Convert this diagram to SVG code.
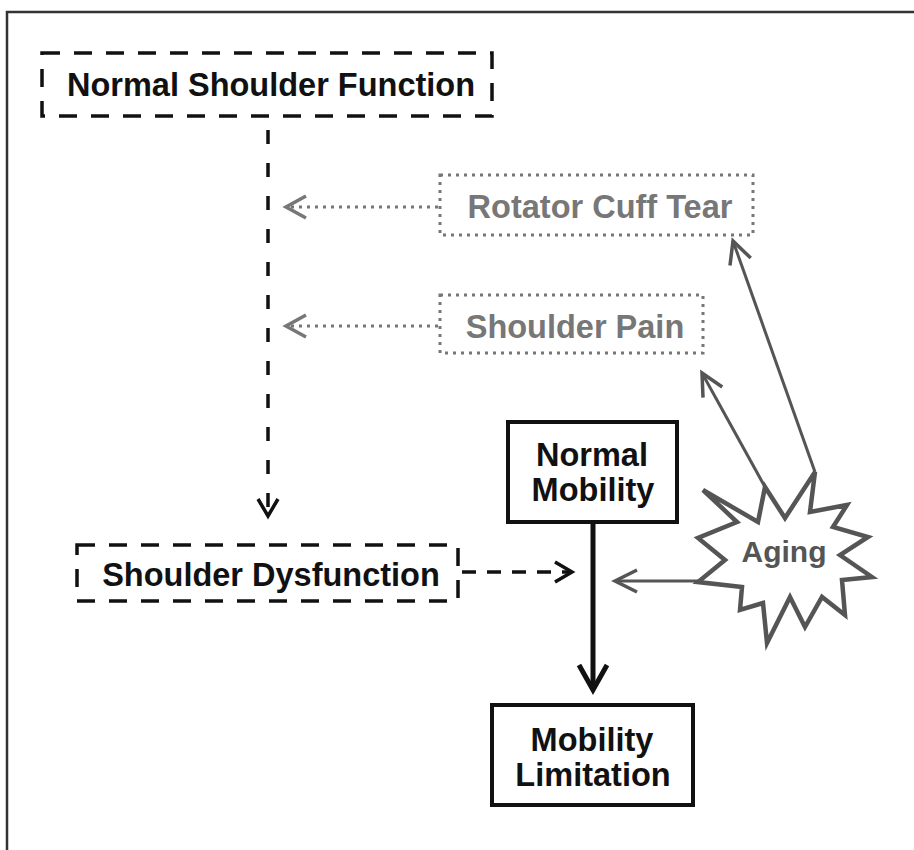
<svg xmlns="http://www.w3.org/2000/svg" width="914" height="850" viewBox="0 0 914 850">
<defs>
<style>
.t{font-family:"Liberation Sans",Arial,sans-serif;font-weight:bold;font-size:32.5px;text-anchor:middle}
.blk{fill:#111}
.gry{fill:#777}
.dash{fill:none;stroke:#111;stroke-width:3.5;stroke-dasharray:18 14}
.dot{fill:none;stroke:#777;stroke-width:3;stroke-dasharray:3 5}
.solid{fill:#fff;stroke:#111;stroke-width:4}
</style>
<marker id="aBlk" markerUnits="userSpaceOnUse" markerWidth="40" markerHeight="40" viewBox="-30 -20 40 40" refX="0" refY="0" orient="auto" overflow="visible"><path d="M-17,-10 L0,0 L-17,10" fill="none" stroke="#111" stroke-width="3.5"/></marker>
<marker id="aThick" markerUnits="userSpaceOnUse" markerWidth="40" markerHeight="40" viewBox="-30 -20 40 40" refX="0" refY="0" orient="auto" overflow="visible"><path d="M-25,-14 L0,0 L-25,14" fill="none" stroke="#111" stroke-width="5"/></marker>
<marker id="aDot" markerUnits="userSpaceOnUse" markerWidth="40" markerHeight="40" viewBox="-30 -20 40 40" refX="0" refY="0" orient="auto" overflow="visible"><path d="M-20,-11 L0,0 L-20,11" fill="none" stroke="#777" stroke-width="3.5"/></marker>
<marker id="aGry" markerUnits="userSpaceOnUse" markerWidth="40" markerHeight="40" viewBox="-30 -20 40 40" refX="0" refY="0" orient="auto" overflow="visible"><path d="M-22,-11 L0,0 L-22,11" fill="none" stroke="#555" stroke-width="3.5"/></marker>
</defs>
<rect width="914" height="850" fill="#fff"/>
<path d="M7,850 L7,12 L914,12" fill="none" stroke="#333" stroke-width="2.5"/>

<g id="connectors">
<line x1="268" y1="130" x2="268" y2="516" stroke="#111" stroke-width="3.5" stroke-dasharray="14 19" marker-end="url(#aBlk)"/>
<line x1="438" y1="207" x2="286" y2="207" stroke="#777" stroke-width="3" stroke-dasharray="3 5" marker-end="url(#aDot)"/>
<line x1="438" y1="326" x2="286" y2="326" stroke="#777" stroke-width="3" stroke-dasharray="3 5" marker-end="url(#aDot)"/>
<line x1="462" y1="572" x2="572" y2="572" stroke="#111" stroke-width="3.5" stroke-dasharray="14 11" marker-end="url(#aBlk)"/>
<line x1="593" y1="522" x2="593" y2="690" stroke="#111" stroke-width="5" marker-end="url(#aThick)"/>
<line x1="815" y1="472" x2="733" y2="241" stroke="#555" stroke-width="3" marker-end="url(#aGry)"/>
<line x1="765" y1="487" x2="702" y2="373" stroke="#555" stroke-width="3" marker-end="url(#aGry)"/>
<line x1="700" y1="581" x2="615" y2="581" stroke="#555" stroke-width="3" marker-end="url(#aGry)"/>
</g>

<g id="normal-shoulder-function">
<rect x="42" y="53" width="450" height="63" class="dash"/>
<text x="271" y="96" class="t blk">Normal Shoulder Function</text>
</g>
<g id="rotator-cuff-tear">
<rect x="440" y="175" width="313" height="60" class="dot"/>
<text x="600" y="218" class="t gry">Rotator Cuff Tear</text>
</g>
<g id="shoulder-pain">
<rect x="440" y="295" width="263" height="58" class="dot"/>
<text x="575" y="338" class="t gry">Shoulder Pain</text>
</g>
<g id="shoulder-dysfunction">
<rect x="77" y="545" width="381" height="56" class="dash"/>
<text x="271" y="586" class="t blk">Shoulder Dysfunction</text>
</g>
<g id="normal-mobility">
<rect x="508" y="422" width="169" height="100" class="solid"/>
<text x="592" y="466" class="t blk">Normal</text>
<text x="593" y="501" class="t blk">Mobility</text>
</g>
<g id="mobility-limitation">
<rect x="492" y="705" width="201" height="100" class="solid"/>
<text x="592" y="751" class="t blk">Mobility</text>
<text x="593" y="786" class="t blk">Limitation</text>
</g>
<g id="aging">
<polygon points="703,490 758,522 765,487 785,518 815,472 810,512 847,505 833,527 868,537 840,555 872,577 842,580 845,615 822,597 805,627 790,597 767,643 763,603 740,610 742,587 698,582 725,560 698,538 737,522" fill="#fff" stroke="#555" stroke-width="4.5" stroke-linejoin="miter"/>
<text x="784" y="562" style="font-family:'Liberation Sans',Arial,sans-serif;font-weight:bold;font-size:30px;text-anchor:middle;fill:#555">Aging</text>
</g>
</svg>
